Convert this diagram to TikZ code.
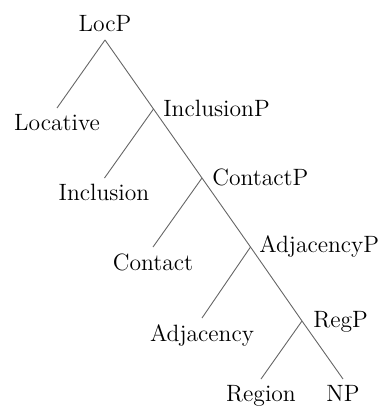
\documentclass[tikz,border=0pt]{standalone}
\begin{document}
\begin{tikzpicture}[x=0.5pt,y=-0.5pt,
  lab/.style={inner sep=0pt,font=\fontsize{11.8}{14}\selectfont},
  leftlab/.style={lab,anchor=base},
  rightlab/.style={lab,anchor=base west},
  branch/.style={draw=black!60,line width=0.45pt}]
\useasboundingbox (0,0) rectangle (380,407);
% spine joints
\coordinate (s0) at (105,40);
\coordinate (s1) at (153.5,109);
\coordinate (s2) at (202,178);
\coordinate (s3) at (250.5,247);
\coordinate (s4) at (302,321);
\coordinate (s5) at (343,379);
% left branch ends
\coordinate (e1) at (57,108);
\coordinate (e2) at (104.5,178);
\coordinate (e3) at (153,247);
\coordinate (e4) at (202,318);
\coordinate (e5) at (261,379);
% labels
\node[leftlab] (locp) at (105,31.5) {LocP};
\node[leftlab] (locative) at (57,130.5) {Locative};
\node[rightlab] (inclp) at (163,116.5) {InclusionP};
\node[leftlab] (incl) at (104,200) {Inclusion};
\node[rightlab] (contp) at (212,185) {ContactP};
\node[leftlab] (cont) at (153,270) {Contact};
\node[rightlab] (adjp) at (259,252.5) {AdjacencyP};
\node[leftlab] (adj) at (202,341) {Adjacency};
\node[rightlab] (regp) at (313,327) {RegP};
\node[leftlab] (reg) at (261,401.5) {Region};
\node[leftlab] (np) at (343,401.5) {NP};
% connectors
\draw[branch] (s0) -- (s1) -- (s2) -- (s3) -- (s4) -- (s5);
\draw[branch] (s0) -- (e1);
\draw[branch] (s1) -- (e2);
\draw[branch] (s2) -- (e3);
\draw[branch] (s3) -- (e4);
\draw[branch] (s4) -- (e5);
\end{tikzpicture}
\end{document}
